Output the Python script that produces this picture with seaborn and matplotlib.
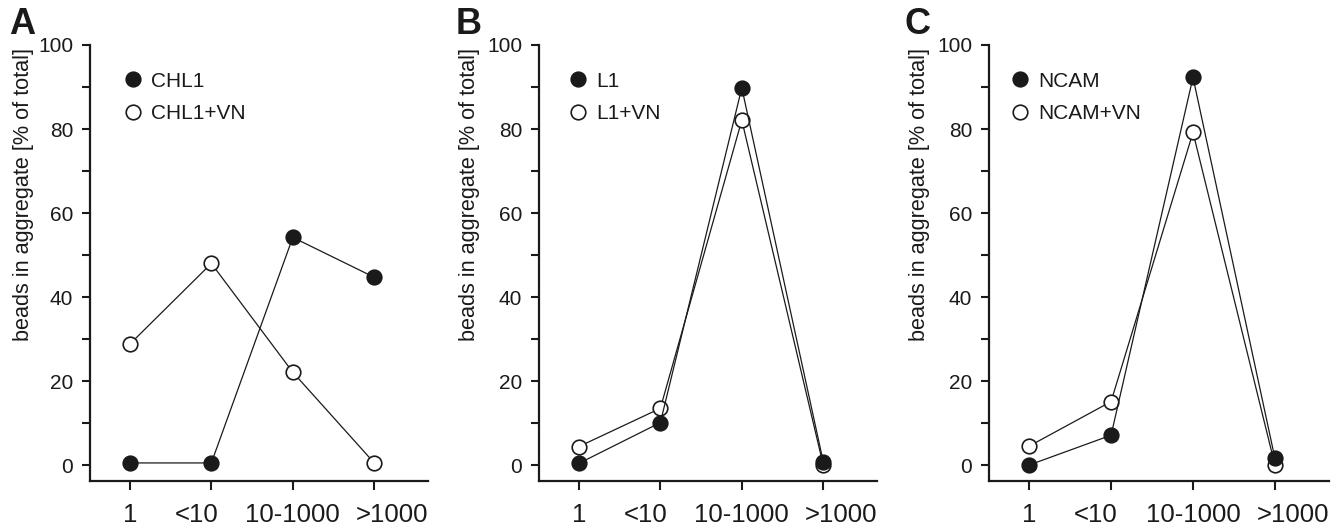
import matplotlib
matplotlib.use("Agg")
import matplotlib.pyplot as plt
import matplotlib.transforms as mtransforms
import seaborn as sns
import pandas as pd
from matplotlib.lines import Line2D
from matplotlib.ticker import MultipleLocator

categories = ["1", "<10", "10-1000", ">1000"]

panel_letters = ["A", "B", "C"]
series_names = [("CHL1", "CHL1+VN"), ("L1", "L1+VN"), ("NCAM", "NCAM+VN")]

chl1 = [0.5, 0.5, 54.2, 44.7]
chl1_vn = [28.8, 48.0, 22.1, 0.5]
l1 = [0.4, 10.1, 89.8, 0.8]
l1_vn = [4.4, 13.5, 82.1, 0.0]
ncam = [0.0, 7.1, 92.3, 1.6]
ncam_vn = [4.5, 15.1, 79.2, 0.0]

panel_values = [(chl1, chl1_vn), (l1, l1_vn), (ncam, ncam_vn)]

ylabel = "beads in aggregate [% of total]"

sns.set_theme(style="ticks")
plt.rcParams["font.family"] = ["Liberation Sans", "DejaVu Sans"]
ink = "#1a1a1a"
plt.rcParams["text.color"] = ink

W, H = 1344, 528
fig = plt.figure(figsize=(W / 100, H / 100), dpi=100)

# axes pixel boxes (left, right), top=45, bottom=481
boxes = [(90, 428), (539, 877), (989, 1329)]
leg_x = [0.096, 0.085, 0.061]
letter_x = [9, 456, 904]
ylabel_x = [-0.165, -0.174, -0.174]
tick_label_shift_px = [0, -15, 0, 18]
top_px, bot_px = 45, 481

for i, ((l, r), letter) in enumerate(zip(boxes, panel_letters)):
    ax = fig.add_axes([l / W, 1 - bot_px / H, (r - l) / W, (bot_px - top_px) / H])
    filled_vals, open_vals = panel_values[i]
    name_f, name_o = series_names[i]
    df_f = pd.DataFrame({"size": categories, "pct": filled_vals})
    df_o = pd.DataFrame({"size": categories, "pct": open_vals})
    sns.lineplot(data=df_o, x="size", y="pct", ax=ax, sort=False, color=ink,
                 linewidth=0.9, marker="o", markersize=10.5, markerfacecolor="white",
                 markeredgecolor=ink, markeredgewidth=1.2, zorder=3)
    sns.lineplot(data=df_f, x="size", y="pct", ax=ax, sort=False, color=ink,
                 linewidth=0.9, marker="o", markersize=10.5, markerfacecolor=ink,
                 markeredgecolor=ink, markeredgewidth=1.2, zorder=4)
    ax.set_xticks(range(len(categories)), categories)
    ax.set_xlim(-0.49, 3.66)
    ax.set_ylim(-3.8, 100)
    ax.yaxis.set_major_locator(MultipleLocator(20))
    ax.yaxis.set_minor_locator(MultipleLocator(10))
    ax.set_xlabel("")
    ax.set_ylabel(ylabel, fontsize=15.6, color=ink)
    ax.yaxis.set_label_coords(ylabel_x[i], 0.657)
    sns.despine(ax=ax)
    for s in ["left", "bottom"]:
        ax.spines[s].set_linewidth(1.6)
        ax.spines[s].set_color(ink)
    ax.tick_params(axis="y", which="both", length=6, width=1.5, color=ink,
                   labelsize=15, labelcolor=ink, pad=6)
    ax.tick_params(axis="x", which="both", length=6.5, width=1.5, color=ink,
                   labelsize=18.5, labelcolor=ink, pad=9)
    for lab, dx in zip(ax.get_xticklabels(), tick_label_shift_px):
        off = mtransforms.ScaledTranslation(dx / 100, 0, fig.dpi_scale_trans)
        lab.set_transform(lab.get_transform() + off)
    handles = [
        Line2D([], [], linestyle="none", marker="o", markersize=10.5,
               markerfacecolor=ink, markeredgecolor=ink, markeredgewidth=1.2),
        Line2D([], [], linestyle="none", marker="o", markersize=10.5,
               markerfacecolor="white", markeredgecolor=ink, markeredgewidth=1.2),
    ]
    ax.legend(handles, [name_f, name_o], loc="upper left",
              bbox_to_anchor=(leg_x[i], 0.939), frameon=False, fontsize=15,
              handlelength=1.0, handletextpad=0.35, labelspacing=0.65,
              borderpad=0, borderaxespad=0)
    fig.text(letter_x[i] / W, 1 - 7 / H, letter, fontsize=26, fontweight="bold",
             ha="left", va="top", color=ink)

fig.savefig("out.png", dpi=100)
